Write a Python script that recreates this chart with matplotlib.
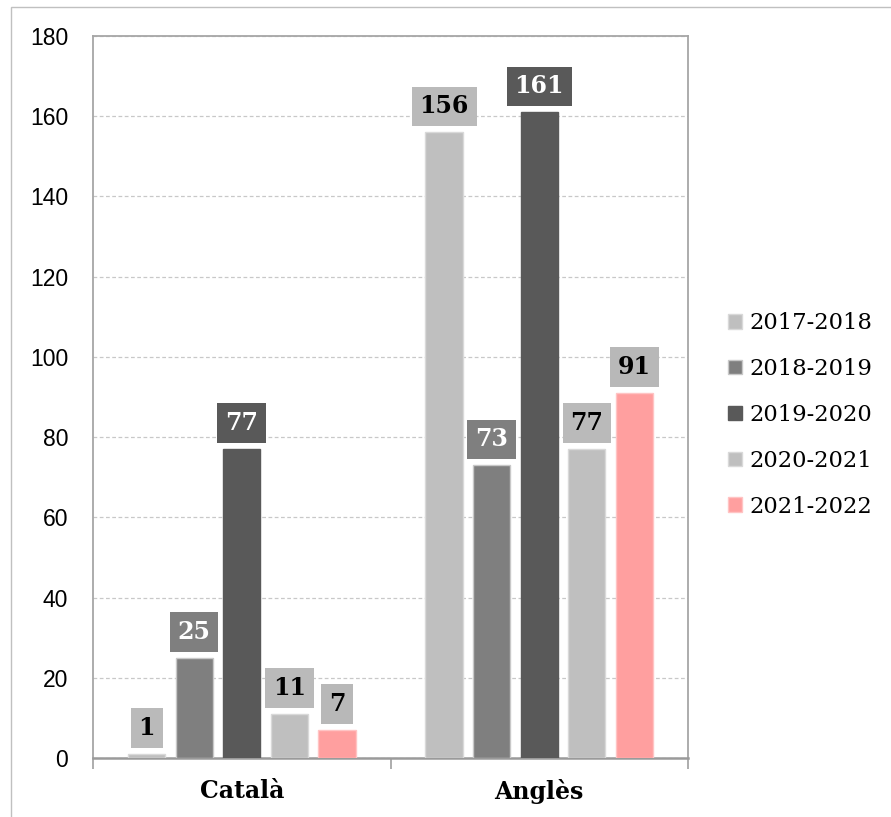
import matplotlib
matplotlib.use("Agg")
import matplotlib.pyplot as plt
import numpy as np
from matplotlib.patches import Patch, Rectangle

# dades: alumnes per curs i llengua
CATEGORIES = ["Català", "Anglès"]
CURSOS = ["2017-2018", "2018-2019", "2019-2020", "2020-2021", "2021-2022"]
VALORS = {
    "2017-2018": [1, 156],
    "2018-2019": [25, 73],
    "2019-2020": [77, 161],
    "2020-2021": [11, 77],
    "2021-2022": [7, 91],
}

COLORS = ["#bfbfbf", "#7f7f7f", "#595959", "#bfbfbf", "#ff9f9f"]
VORES = ["#d9d9d9", "#c8c8c8", "#595959", "#d9d9d9", "#ffc4c4"]
CAIXES = ["#bababa", "#7f7f7f", "#595959", "#bababa", "#b8b8b8"]
TEXT_ETIQ = ["black", "white", "white", "black", "black"]

SERIF = "DejaVu Serif"
SANS = "Liberation Sans"

fig = plt.figure(figsize=(8.91, 8.17), dpi=100)
ax = fig.add_axes([0.1044, 0.0722, 0.6678, 0.8837])

# marc exterior del gràfic
fig.patches.append(Rectangle((11 / 891, -0.05), 1.2, 1 - 7 / 817 + 0.05,
                             transform=fig.transFigure, fill=False,
                             edgecolor="#c0c0c0", linewidth=1.0))

x = np.arange(len(CATEGORIES)) + 0.5
pas = 0.16
amplada = 0.125

for i, curs in enumerate(CURSOS):
    vals = VALORS[curs]
    pos = x + (i - 2) * pas
    ax.bar(pos, vals, amplada, color=COLORS[i], edgecolor=VORES[i],
           linewidth=1.0, zorder=3)
    for xp, v in zip(pos, vals):
        ax.annotate(str(v), xy=(xp, v), xytext=(0, 10),
                    textcoords="offset points", ha="center", va="bottom",
                    fontsize=17, fontweight="bold", family=SERIF,
                    color=TEXT_ETIQ[i], zorder=5,
                    bbox=dict(boxstyle="square,pad=0.33", facecolor=CAIXES[i],
                              edgecolor="none"))

ax.set_xlim(0, 2)
ax.set_ylim(0, 180)
ax.set_yticks(np.arange(0, 181, 20))
ax.yaxis.grid(True, color="#c8c8c8", linestyle=(0, (3, 2)), linewidth=0.9,
              zorder=0)
ax.set_axisbelow(True)

ax.set_xticks(x)
ax.set_xticklabels(CATEGORIES, fontsize=17, fontweight="bold", family=SERIF)
ax.set_xticks([0, 1, 2], minor=True)
ax.tick_params(axis="x", which="major", length=0, pad=15)
ax.tick_params(axis="x", which="minor", length=8, width=1.2,
               color="#a0a0a0", direction="out")
ax.tick_params(axis="y", length=0, pad=18, labelsize=16.5)
for t in ax.get_yticklabels():
    t.set_family(SANS)

for nom, sp in ax.spines.items():
    sp.set_color("#a6a6a6")
    sp.set_linewidth(1.3)
ax.spines["bottom"].set_linewidth(1.8)
ax.spines["bottom"].set_color("#9a9a9a")

handles = [Patch(facecolor=c, edgecolor=e, linewidth=1.0)
           for c, e in zip(COLORS, VORES)]
fig.legend(handles, CURSOS, loc="center left",
           bbox_to_anchor=(0.817, 0.492), frameon=False,
           prop={"family": SERIF, "size": 16.3},
           handlelength=0.6, handleheight=0.6, handletextpad=0.35,
           labelspacing=1.05, borderpad=0, borderaxespad=0)

fig.savefig("out.png", dpi=100, facecolor="white")
